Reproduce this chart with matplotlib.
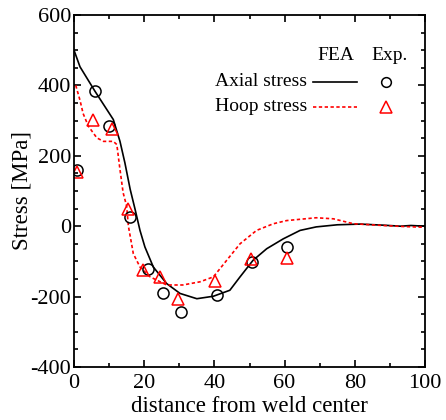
import numpy as np
import matplotlib.pyplot as plt
from matplotlib.ticker import MultipleLocator

plt.rcParams['font.family'] = ['Liberation Serif', 'DejaVu Serif']
plt.rcParams['axes.unicode_minus'] = False

# FEA axial stress (black solid)
axial_fea_x = [0, 1.7, 6, 11.2, 13.1, 14.5, 16, 17.4, 18.8, 20.2, 22.6, 26.4, 30.2, 35,
               39.7, 44.4, 47.3, 51, 54.9, 59.6, 64.4, 69, 75, 81.5, 88, 93, 96, 100]
axial_fea_y = [500, 453, 383, 303, 241, 180, 105, 48, -12, -59, -116, -163, -191, -206,
               -199, -182, -144, -97, -64, -36, -12, -2, 4, 6, 3, 0, 2, 0]

# FEA hoop stress (red dotted)
hoop_fea_x = [0.5, 1.7, 2.6, 4.1, 6.5, 8.4, 11.2, 12.2, 13.1, 14, 15, 15.5, 16.9, 18.8,
              21.7, 26.4, 31, 35.9, 39.7, 43.5, 47.3, 52, 56.8, 60.6, 69, 73.9, 79.6, 88, 94, 100]
hoop_fea_y = [400, 358, 320, 284, 251, 241, 241, 232, 161, 95, 57, 0, -78, -116,
              -144, -167, -167, -158, -144, -97, -50, -12, 7, 16, 24, 21, 7, 2, -1, -3]

# experimental data
axial_exp_x = [0.8, 6, 10, 16, 21.2, 25.4, 30.5, 40.6, 50.8, 60.6]
axial_exp_y = [159, 383, 286, 27, -121, -190, -243, -196, -102, -59]
hoop_exp_x = [0.8, 5.5, 10.7, 15.3, 19.7, 24.5, 29.7, 40.2, 50.4, 60.6]
hoop_exp_y = [155, 301, 277, 50, -125, -143, -206, -156, -93, -89]

fig = plt.figure(figsize=(4.46, 4.20), dpi=100)
ax = fig.add_axes([74 / 446, 1 - 367 / 420, 351 / 446, 352 / 420])

ax.plot(axial_fea_x, axial_fea_y, color='black', lw=1.2)
ax.plot(hoop_fea_x, hoop_fea_y, color='red', lw=1.2, linestyle=(0, (2, 1.5)))
ax.plot(axial_exp_x, axial_exp_y, 'o', mfc='none', mec='black', ms=8, mew=1.1)
ax.plot(hoop_exp_x, hoop_exp_y, '^', mfc='none', mec='red', ms=9, mew=1.1)

ax.set_xlim(0, 100)
ax.set_ylim(-400, 600)
ax.xaxis.set_major_locator(MultipleLocator(20))
ax.xaxis.set_minor_locator(MultipleLocator(10))
ax.yaxis.set_major_locator(MultipleLocator(200))
ax.yaxis.set_minor_locator(MultipleLocator(50))
ax.tick_params(which='both', direction='in', top=True, right=True, labelsize=16, width=1.2)
ax.tick_params(which='major', length=5)
ax.tick_params(which='minor', length=3)
ax.tick_params(axis='y', pad=2)
ax.tick_params(axis='x', pad=5)
for s in ax.spines.values():
    s.set_linewidth(1.3)

ax.set_xlabel('distance from weld center', fontsize=16.5)
ax.set_ylabel('Stress [MPa]', fontsize=16.5, va='center')
ax.xaxis.set_label_coords(0.5, -0.083)
ax.yaxis.set_label_coords(-0.148, 0.5)

# legend drawn by hand
tr = ax.transAxes
ax.text(0.746, 0.886, 'FEA', transform=tr, fontsize=14, ha='center', va='center')
ax.text(0.898, 0.886, 'Exp.', transform=tr, fontsize=14, ha='center', va='center')
ax.text(0.664, 0.81, 'Axial stress', transform=tr, fontsize=14, ha='right', va='center')
ax.text(0.664, 0.739, 'Hoop stress', transform=tr, fontsize=14, ha='right', va='center')
ax.plot([0.682, 0.806], [0.81, 0.81], transform=tr, color='black', lw=1.2)
ax.plot([0.682, 0.806], [0.739, 0.739], transform=tr, color='red', lw=1.2, linestyle=(0, (2, 1.5)))
ax.plot([0.888], [0.81], 'o', transform=tr, mfc='none', mec='black', ms=7, mew=1.1)
ax.plot([0.888], [0.739], '^', transform=tr, mfc='none', mec='red', ms=9, mew=1.1)

fig.savefig('out.png', dpi=100)
